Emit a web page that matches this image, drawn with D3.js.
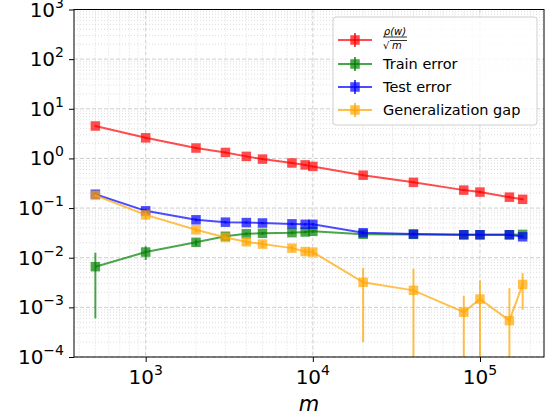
<!DOCTYPE html>
<html lang="en">
<head>
  <meta charset="UTF-8" />
  <title>Generalization vs m</title>
  <script src="https://d3js.org/d3.v7.min.js"></script>
  <style>
    body { margin: 0; background: #fff; }
    text { font-family: "DejaVu Sans", sans-serif; fill: #000; }
    .grid-major { stroke: #c8c8c8; stroke-width: 0.9; stroke-dasharray: 4,2; }
    .grid-minor { stroke: #d6d6d6; stroke-width: 0.8; stroke-dasharray: 1,2; }
    .axis path, .axis line { stroke: #000; }
  </style>
</head>
<body>
<script>
  // sample sizes (x)
  const mVals = [500, 1000, 2000, 3000, 4000, 5000, 7500, 9000, 10000, 20000, 40000, 80000, 100000, 150000, 180000];

  // series values and their std
  const rhoVals  = [4.5, 2.6, 1.62, 1.32, 1.1, 0.97, 0.81, 0.74, 0.69, 0.46, 0.33, 0.23, 0.21, 0.166, 0.15];
  const rhoErr   = [0.15, 0.08, 0.05, 0.04, 0.03, 0.03, 0.02, 0.02, 0.02, 0.01, 0.01, 0.01, 0.01, 0.005, 0.005];
  const trainVals = [0.0066, 0.013, 0.0204, 0.027, 0.0303, 0.031, 0.032, 0.033, 0.034, 0.0297, 0.0295, 0.029, 0.029, 0.029, 0.0295];
  const trainErr  = [0.006, 0.004, 0.003, 0.002, 0.002, 0.002, 0.002, 0.002, 0.002, 0.001, 0.001, 0.001, 0.001, 0.001, 0.001];
  const testVals = [0.19, 0.088, 0.058, 0.052, 0.051, 0.050, 0.048, 0.047, 0.047, 0.0318, 0.030, 0.029, 0.029, 0.029, 0.0264];
  const testErr  = [0.01, 0.008, 0.004, 0.003, 0.003, 0.003, 0.003, 0.003, 0.003, 0.002, 0.002, 0.001, 0.001, 0.001, 0.001];
  const gapVals  = [0.18, 0.073, 0.0365, 0.0256, 0.021, 0.0188, 0.0156, 0.0133, 0.013, 0.0032, 0.0022, 0.0008, 0.00147, 0.00054, 0.0029];
  const gapErr   = [0.01, 0.015, 0.004, 0.003, 0.003, 0.003, 0.002, 0.002, 0.002, 0.003, 0.0038, 0.0009, 0.002, 0.0019, 0.002];

  const seriesNames = ["rho", "Train error", "Test error", "Generalization gap"];
  const seriesColors = ["#ff0000", "#008000", "#0000ff", "#ffa500"];
  const yTickExps = [-4, -3, -2, -1, 0, 1, 2, 3];
  const xTickExps = [3, 4, 5];

  const series = [
    { vals: rhoVals, err: rhoErr },
    { vals: trainVals, err: trainErr },
    { vals: testVals, err: testErr },
    { vals: gapVals, err: gapErr }
  ].map((s, i) => ({ ...s, name: seriesNames[i], color: seriesColors[i] }));

  const W = 546, H = 419;
  const margin = { top: 9.5, right: 2, bottom: 62, left: 74 };
  const width = W - margin.left - margin.right,
        height = H - margin.top - margin.bottom;

  const svg = d3.select("body").append("svg")
      .attr("width", W).attr("height", H);
  const g = svg.append("g")
      .attr("transform", `translate(${margin.left},${margin.top})`);

  // padded log x domain like matplotlib autoscale
  const lx = [Math.log10(d3.min(mVals)), Math.log10(d3.max(mVals))];
  const pad = (lx[1] - lx[0]) * 0.05;
  const x = d3.scaleLog().domain([10 ** (lx[0] - pad), 10 ** (lx[1] + pad)]).range([0, width]);
  const y = d3.scaleLog().domain([1e-4, 1e3]).range([height, 0]);

  // minor / major tick values
  const xMinor = [], yMinor = [];
  for (let e = 2; e <= 5; e++) for (let k = 2; k <= 9; k++) {
    const v = k * 10 ** e;
    if (v > x.domain()[0] && v < x.domain()[1]) xMinor.push(v);
  }
  for (let e = -4; e < 3; e++) for (let k = 2; k <= 9; k++) yMinor.push(k * 10 ** e);
  const xMajor = xTickExps.map(e => 10 ** e);
  const yMajor = yTickExps.map(e => 10 ** e);

  // grid
  const grid = g.append("g");
  grid.selectAll(".xm").data(xMinor).join("line").attr("class", "grid-minor")
    .attr("x1", d => x(d)).attr("x2", d => x(d)).attr("y1", 0).attr("y2", height);
  grid.selectAll(".ym").data(yMinor).join("line").attr("class", "grid-minor")
    .attr("y1", d => y(d)).attr("y2", d => y(d)).attr("x1", 0).attr("x2", width);
  grid.selectAll(".xM").data(xMajor).join("line").attr("class", "grid-major")
    .attr("x1", d => x(d)).attr("x2", d => x(d)).attr("y1", 0).attr("y2", height);
  grid.selectAll(".yM").data(yMajor).join("line").attr("class", "grid-major")
    .attr("y1", d => y(d)).attr("y2", d => y(d)).attr("x1", 0).attr("x2", width);

  // clip for data
  svg.append("defs").append("clipPath").attr("id", "clip")
    .append("rect").attr("width", width).attr("height", height);
  const plot = g.append("g").attr("clip-path", "url(#clip)");

  const line = d3.line().x(d => x(d.m)).y(d => y(d.v));
  const ms = 9.5;

  series.forEach(s => {
    const pts = mVals.map((m, i) => ({ m, v: s.vals[i], e: s.err[i] }));
    const sg = plot.append("g");
    sg.append("path").datum(pts)
      .attr("d", line).attr("fill", "none")
      .attr("stroke", s.color).attr("stroke-width", 2).attr("opacity", 0.7);
    sg.selectAll(".eb").data(pts).join("line")
      .attr("x1", d => x(d.m)).attr("x2", d => x(d.m))
      .attr("y1", d => y(d.v + d.e))
      .attr("y2", d => d.v - d.e > 0 ? y(d.v - d.e) : height + 5)
      .attr("stroke", s.color).attr("stroke-width", 2).attr("opacity", 0.7);
    sg.selectAll(".mk").data(pts).join("rect")
      .attr("x", d => x(d.m) - ms / 2).attr("y", d => y(d.v) - ms / 2)
      .attr("width", ms).attr("height", ms)
      .attr("fill", s.color).attr("opacity", 0.7);
  });

  // axes frame
  g.append("rect").attr("width", width).attr("height", height)
    .attr("fill", "none").attr("stroke", "#000").attr("stroke-width", 1);

  // x axis
  const xAxis = g.append("g").attr("class", "axis").attr("transform", `translate(0,${height})`);
  xAxis.call(d3.axisBottom(x).tickValues(xMinor).tickSize(3).tickFormat(""));
  xAxis.call(d3.axisBottom(x).tickValues(xMajor).tickSize(5).tickFormat(""));
  xAxis.selectAll("path").remove();
  const xl = g.append("g");
  xTickExps.forEach(e => {
    const t = xl.append("text").attr("x", x(10 ** e)).attr("y", height + 27)
      .attr("text-anchor", "middle").attr("font-size", 20);
    t.append("tspan").text("10");
    t.append("tspan").attr("dy", -9).attr("font-size", 14).text(e);
  });

  // y axis
  const yAxis = g.append("g").attr("class", "axis");
  yAxis.call(d3.axisLeft(y).tickValues(yMinor).tickSize(3).tickFormat(""));
  yAxis.call(d3.axisLeft(y).tickValues(yMajor).tickSize(5).tickFormat(""));
  yAxis.selectAll("path").remove();
  const yl = g.append("g");
  yTickExps.forEach(e => {
    const t = yl.append("text").attr("x", -10).attr("y", y(10 ** e) + 7)
      .attr("text-anchor", "end").attr("font-size", 20);
    t.append("tspan").text("10");
    t.append("tspan").attr("dy", -9).attr("font-size", 14)
      .text(e < 0 ? "\u2212" + Math.abs(e) : e);
  });

  // x label
  g.append("text").attr("x", width / 2).attr("y", height + 54)
    .attr("text-anchor", "middle").attr("font-size", 21)
    .attr("font-style", "italic").text("m");

  // legend
  const lg = svg.append("g").attr("transform", "translate(333,17)");
  lg.append("rect").attr("width", 204).attr("height", 108).attr("rx", 3)
    .attr("fill", "#fff").attr("fill-opacity", 0.8)
    .attr("stroke", "#d0d0d0").attr("stroke-width", 1);
  const rowY = [23, 47, 70, 93];
  series.forEach((s, i) => {
    const r = lg.append("g").attr("transform", `translate(0,${rowY[i]})`);
    r.append("line").attr("x1", 5).attr("x2", 39).attr("y1", 0).attr("y2", 0)
      .attr("stroke", s.color).attr("stroke-width", 2).attr("opacity", 0.7);
    r.append("line").attr("x1", 22).attr("x2", 22).attr("y1", -7).attr("y2", 7)
      .attr("stroke", s.color).attr("stroke-width", 2).attr("opacity", 0.7);
    r.append("rect").attr("x", 22 - ms / 2).attr("y", -ms / 2)
      .attr("width", ms).attr("height", ms).attr("fill", s.color).attr("opacity", 0.7);
    if (i === 0) {
      r.append("text").attr("x", 62).attr("y", -5).attr("text-anchor", "middle")
        .attr("font-size", 10).attr("font-style", "italic").text("\u03c1(w)");
      r.append("line").attr("x1", 50).attr("x2", 74).attr("y1", -3).attr("y2", -3)
        .attr("stroke", "#000").attr("stroke-width", 0.8);
      r.append("text").attr("x", 50).attr("y", 9).attr("font-size", 10).text("\u221a");
      r.append("line").attr("x1", 57).attr("x2", 74).attr("y1", 0.5).attr("y2", 0.5)
        .attr("stroke", "#000").attr("stroke-width", 0.8);
      r.append("text").attr("x", 59).attr("y", 9).attr("font-size", 10)
        .attr("font-style", "italic").text("m");
    } else {
      r.append("text").attr("x", 50).attr("y", 5).attr("font-size", 14.5).text(s.name);
    }
  });
</script>
</body>
</html>
